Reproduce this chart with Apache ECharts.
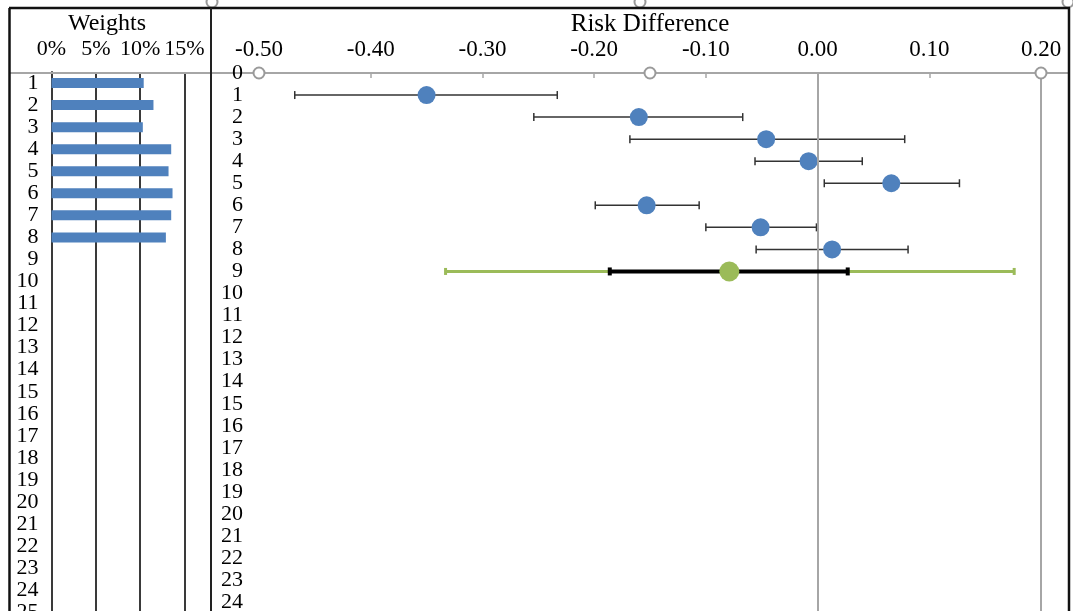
<!DOCTYPE html>
<html><head><meta charset="utf-8">
<script src="https://cdn.jsdelivr.net/npm/echarts/dist/echarts.min.js"></script>
<style>html,body{margin:0;padding:0;background:#fff}#c{width:1073px;height:611px}</style>
</head><body><div id="c"></div>
<script>
// ---- data ----
const rowLabels = ['1','2','3','4','5','6','7','8','9','10','11','12','13','14','15','16','17','18','19','20','21','22','23','24','25'];
const weights = [10.4, 11.5, 10.3, 13.5, 13.2, 13.65, 13.5, 12.9];          // %
const studyRows = [1, 2, 3, 4, 5, 6, 7, 8];
const riskDiff = [-0.350, -0.160, -0.046, -0.008, 0.066, -0.153, -0.051, 0.013];
const ciLower  = [-0.468, -0.254, -0.168, -0.056, 0.006, -0.199, -0.100, -0.055];
const ciUpper  = [-0.233, -0.067, 0.078, 0.040, 0.127, -0.106, -0.001, 0.081];
const pooledRow = [9];
const pooledRD = [-0.079];
const pooledLower = [-0.186];
const pooledUpper = [0.027];
const predLower = [-0.333];
const predUpper = [0.176];
const weightTicks = { min: 0, max: 15, interval: 5 };
const rdTicks = { min: -0.5, max: 0.2, interval: 0.1 };
const rowTicks = { min: 0, max: 25, interval: 1 };
const handleValues = [-0.5, -0.15, 0.2];
const refLines = [0, 0.2];

const FONT = 'Liberation Serif';
const chart = echarts.init(document.getElementById('c'));

function errorBarRenderer(color, width, capHalf) {
  return function (params, api) {
    const row = api.value(0), lo = api.value(1), hi = api.value(2);
    const a = api.coord([lo, row]);
    const b = api.coord([hi, row]);
    const st = { stroke: color, lineWidth: width };
    return {
      type: 'group',
      children: [
        { type: 'line', shape: { x1: a[0], y1: a[1], x2: b[0], y2: b[1] }, style: st },
        { type: 'line', shape: { x1: a[0], y1: a[1] - capHalf, x2: a[0], y2: a[1] + capHalf }, style: st },
        { type: 'line', shape: { x1: b[0], y1: b[1] - capHalf, x2: b[0], y2: b[1] + capHalf }, style: st }
      ]
    };
  };
}

const rowH = 22.05;
const option = {
  backgroundColor: '#fff',
  animation: false,
  textStyle: { fontFamily: FONT, color: '#000' },
  grid: [
    { left: 51.5, top: 72, width: 133, height: rowH * 25, show: false, outerBoundsMode: 'none', containLabel: false },
    { left: 259, top: 73, width: 782, height: rowH * 25, show: false, outerBoundsMode: 'none', containLabel: false }
  ],
  xAxis: [
    {
      gridIndex: 0, type: 'value', position: 'top',
      min: weightTicks.min, max: weightTicks.max, interval: weightTicks.interval,
      axisLine: { show: false }, axisTick: { show: false },
      splitLine: { show: true, lineStyle: { color: '#3a3a3a', width: 2 } },
      axisLabel: { formatter: '{value}%', fontFamily: FONT, fontSize: 22, color: '#000', margin: 12 }
    },
    {
      gridIndex: 1, type: 'value', position: 'top',
      min: rdTicks.min, max: rdTicks.max, interval: rdTicks.interval,
      name: 'Risk Difference', nameLocation: 'middle', nameGap: 36, nameMoveOverlap: false,
      nameTextStyle: { fontFamily: FONT, fontSize: 25, color: '#000' },
      axisLine: { show: true, lineStyle: { color: '#a6a6a6', width: 2 } },
      axisTick: { show: true, inside: true, length: 5, lineStyle: { color: '#a6a6a6', width: 1.5 } },
      splitLine: { show: false },
      axisLabel: { formatter: v => v.toFixed(2), fontFamily: FONT, fontSize: 23, color: '#000', margin: 12 }
    }
  ],
  yAxis: [
    {
      gridIndex: 0, type: 'category', inverse: true, data: rowLabels,
      axisLine: { show: true, lineStyle: { color: '#3a3a3a', width: 2 } },
      axisTick: { show: false },
      axisLabel: { fontFamily: FONT, fontSize: 22, color: '#000', margin: 13, interval: 0 }
    },
    {
      gridIndex: 1, type: 'value', inverse: true, z: 5,
      min: rowTicks.min, max: rowTicks.max, interval: rowTicks.interval,
      axisLine: { show: true, lineStyle: { color: '#a6a6a6', width: 2 } },
      axisTick: { show: false }, splitLine: { show: false },
      axisLabel: { fontFamily: FONT, fontSize: 22, color: '#000', margin: 16, showMaxLabel: false, padding: [5, 0, 0, 0] }
    }
  ],
  series: [
    {
      type: 'bar', xAxisIndex: 0, yAxisIndex: 0, data: weights, barWidth: 10,
      itemStyle: { color: '#4f81bd' }
    },
    {
      type: 'custom', xAxisIndex: 1, yAxisIndex: 1,
      renderItem: errorBarRenderer('#333333', 1.5, 4),
      data: studyRows.map((r, i) => [r, ciLower[i], ciUpper[i]]),
      encode: { x: [1, 2], y: 0 }, z: 3
    },
    {
      type: 'scatter', xAxisIndex: 1, yAxisIndex: 1, symbolSize: 18,
      itemStyle: { color: '#4f81bd', opacity: 1 },
      data: studyRows.map((r, i) => [riskDiff[i], r]), z: 4,
      markLine: {
        silent: true, symbol: 'none', label: { show: false },
        lineStyle: { color: '#a6a6a6', width: 2, type: 'solid' },
        data: refLines.map(v => ({ xAxis: v }))
      }
    },
    {
      type: 'custom', xAxisIndex: 1, yAxisIndex: 1,
      renderItem: errorBarRenderer('#9bbb59', 3, 3.5),
      data: pooledRow.map((r, i) => [r, predLower[i], predUpper[i]]),
      encode: { x: [1, 2], y: 0 }, z: 5
    },
    {
      type: 'custom', xAxisIndex: 1, yAxisIndex: 1,
      renderItem: errorBarRenderer('#000000', 4, 4),
      data: pooledRow.map((r, i) => [r, pooledLower[i], pooledUpper[i]]),
      encode: { x: [1, 2], y: 0 }, z: 6
    },
    {
      type: 'scatter', xAxisIndex: 1, yAxisIndex: 1, symbolSize: 20,
      itemStyle: { color: '#9bbb59', opacity: 1 },
      data: pooledRow.map((r, i) => [pooledRD[i], r]), z: 7
    },
    {
      type: 'scatter', xAxisIndex: 1, yAxisIndex: 1, symbol: 'circle', symbolSize: 11, clip: false,
      itemStyle: { color: '#fff', borderColor: '#9a9a9a', borderWidth: 2, opacity: 1 },
      data: handleValues.map(v => [v, 0]), z: 10
    }
  ],
  graphic: [
    { type: 'line', z: 1, shape: { x1: 10, y1: 73, x2: 1069, y2: 73 }, style: { stroke: '#a6a6a6', lineWidth: 2 } },
    { type: 'circle', z: 1, shape: { cx: 212, cy: 2, r: 5.5 }, style: { fill: '#fff', stroke: '#9a9a9a', lineWidth: 2 } },
    { type: 'circle', z: 1, shape: { cx: 640, cy: 2, r: 5.5 }, style: { fill: '#fff', stroke: '#9a9a9a', lineWidth: 2 } },
    { type: 'circle', z: 1, shape: { cx: 1068, cy: 2, r: 5.5 }, style: { fill: '#fff', stroke: '#9a9a9a', lineWidth: 2 } },
    { type: 'line', z: 2, shape: { x1: 9, y1: 8, x2: 1070, y2: 8 }, style: { stroke: '#111', lineWidth: 2.5 } },
    { type: 'line', z: 2, shape: { x1: 9.5, y1: 8, x2: 9.5, y2: 611 }, style: { stroke: '#111', lineWidth: 2.5 } },
    { type: 'line', z: 2, shape: { x1: 211, y1: 8, x2: 211, y2: 611 }, style: { stroke: '#222', lineWidth: 2 } },
    { type: 'line', z: 2, shape: { x1: 1069, y1: 8, x2: 1069, y2: 611 }, style: { stroke: '#111', lineWidth: 2.5 } },
    { type: 'text', z: 2, x: 107, y: 24, style: { text: 'Weights', font: '24px "Liberation Serif"', fill: '#000', align: 'center', verticalAlign: 'middle' } }
  ]
};
chart.setOption(option);
</script>
</body></html>
